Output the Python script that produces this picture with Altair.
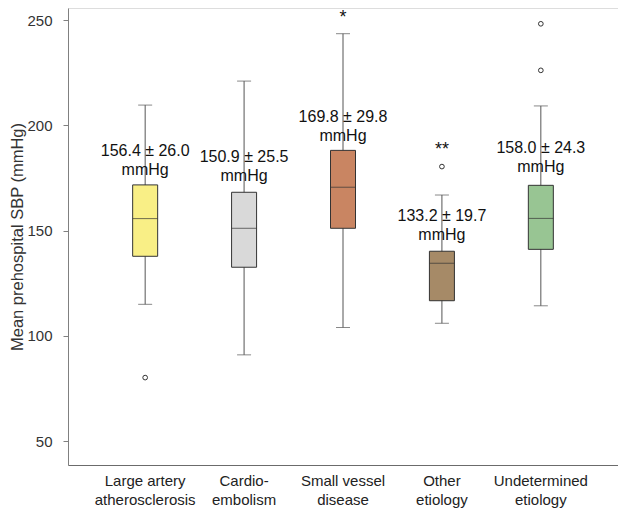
import json
import altair as alt
import pandas as pd

# ---- data ----
categories = ["Large artery atherosclerosis", "Cardio-embolism", "Small vessel disease",
              "Other etiology", "Undetermined etiology"]
label_lines = [["Large artery", "atherosclerosis"], ["Cardio-", "embolism"],
               ["Small vessel", "disease"], ["Other", "etiology"], ["Undetermined", "etiology"]]
lower_whisker = [115.0, 91.0, 104.0, 106.0, 114.3]
q1 = [137.8, 132.6, 151.1, 116.7, 141.1]
median = [155.7, 151.1, 170.6, 134.5, 155.8]
q3 = [171.7, 168.2, 188.1, 140.2, 171.5]
upper_whisker = [209.6, 221.0, 243.5, 166.9, 209.2]
box_colors = ["#F9EF86", "#D9D9D9", "#C98562", "#A68A67", "#98C593"]

outlier_category = ["Large artery atherosclerosis", "Other etiology",
                    "Undetermined etiology", "Undetermined etiology"]
outlier_value = [80.2, 180.4, 226.1, 248.2]

annotation_text = ["156.4 ± 26.0\nmmHg", "150.9 ± 25.5\nmmHg", "169.8 ± 29.8\nmmHg",
                   "133.2 ± 19.7\nmmHg", "158.0 ± 24.3\nmmHg"]
annotation_y = [187.8, 185.1, 204.1, 156.9, 189.4]

sig_category = ["Small vessel disease", "Other etiology"]
sig_text = ["*", "**"]
sig_y = [251.0, 188.5]

y_ticks = [50, 100, 150, 200, 250]
y_domain = [38.7, 255.7]

# ---- tables ----
stats = pd.DataFrame({
    "cat": categories, "lw": lower_whisker, "q1": q1, "med": median,
    "q3": q3, "uw": upper_whisker, "ann": annotation_text, "ann_y": annotation_y,
})
outliers = pd.DataFrame({"cat": outlier_category, "v": outlier_value})
sigs = pd.DataFrame({"cat": sig_category, "t": sig_text, "y": sig_y})

label_expr = ""
for c, l in zip(categories, label_lines):
    label_expr += f"datum.value == {json.dumps(c)} ? {json.dumps(l)} : "
label_expr += "datum.value"

FONT = "Liberation Sans"

x_enc = alt.X("cat:N", sort=categories,
              scale=alt.Scale(paddingInner=0, paddingOuter=0.28),
              axis=alt.Axis(title=None, labelAngle=0, ticks=False, labelExpr=label_expr,
                            labelFontSize=15, labelLineHeight=19, labelPadding=8,
                            labelColor="#222222", labelFont=FONT,
                            domainColor="#6b6b6b", labelBaseline="top"))
y_scale = alt.Scale(domain=y_domain, nice=False, zero=False)
y_axis = alt.Axis(title="Mean prehospital SBP (mmHg)", values=y_ticks, grid=False,
                  tickSize=5, tickColor="#808080", domainColor="#808080",
                  labelFontSize=15, labelColor="#333333", labelFont=FONT, labelPadding=11,
                  titleFontSize=16.5, titleFont=FONT, titleColor="#333333",
                  titleFontWeight="normal", titlePadding=1)

base = alt.Chart(stats)

whisker = base.mark_rule(color="#555555", strokeWidth=1).encode(
    x=x_enc,
    y=alt.Y("lw:Q", scale=y_scale, axis=y_axis),
    y2="uw:Q",
)
caps_low = base.mark_tick(color="#555555", size=14, thickness=1).encode(
    x=alt.X("cat:N", sort=categories), y=alt.Y("lw:Q"))
caps_high = base.mark_tick(color="#555555", size=14, thickness=1).encode(
    x=alt.X("cat:N", sort=categories), y=alt.Y("uw:Q"))
box = base.mark_bar(size=25, stroke="#333333", strokeWidth=1).encode(
    x=alt.X("cat:N", sort=categories),
    y=alt.Y("q1:Q"),
    y2="q3:Q",
    color=alt.Color("cat:N", sort=categories,
                    scale=alt.Scale(domain=categories, range=box_colors), legend=None),
)
med = base.mark_tick(color="#333333", size=25, thickness=1).encode(
    x=alt.X("cat:N", sort=categories), y=alt.Y("med:Q"))
ann = base.mark_text(fontSize=16, lineHeight=19, font=FONT, color="#111111",
                     baseline="middle", lineBreak="\n").encode(
    x=alt.X("cat:N", sort=categories), y=alt.Y("ann_y:Q"), text="ann:N")

pts = alt.Chart(outliers).mark_point(shape="circle", size=22, color="#333333",
                                     strokeWidth=1, filled=False, opacity=1).encode(
    x=alt.X("cat:N", sort=categories), y=alt.Y("v:Q"))

sig = alt.Chart(sigs).mark_text(fontSize=18, font=FONT, color="#111111",
                                baseline="middle").encode(
    x=alt.X("cat:N", sort=categories), y=alt.Y("y:Q"), text="t:N")

chart = alt.layer(whisker, caps_low, caps_high, box, med, pts, ann, sig).properties(
    width=550, height=457,
    autosize=alt.AutoSizeParams(type="none"),
    padding={"left": 60, "top": 0, "right": 0, "bottom": 44},
).configure_view(stroke=None).configure(background="white")

chart.save("out.html", embed_options={"renderer": "svg", "actions": False})
